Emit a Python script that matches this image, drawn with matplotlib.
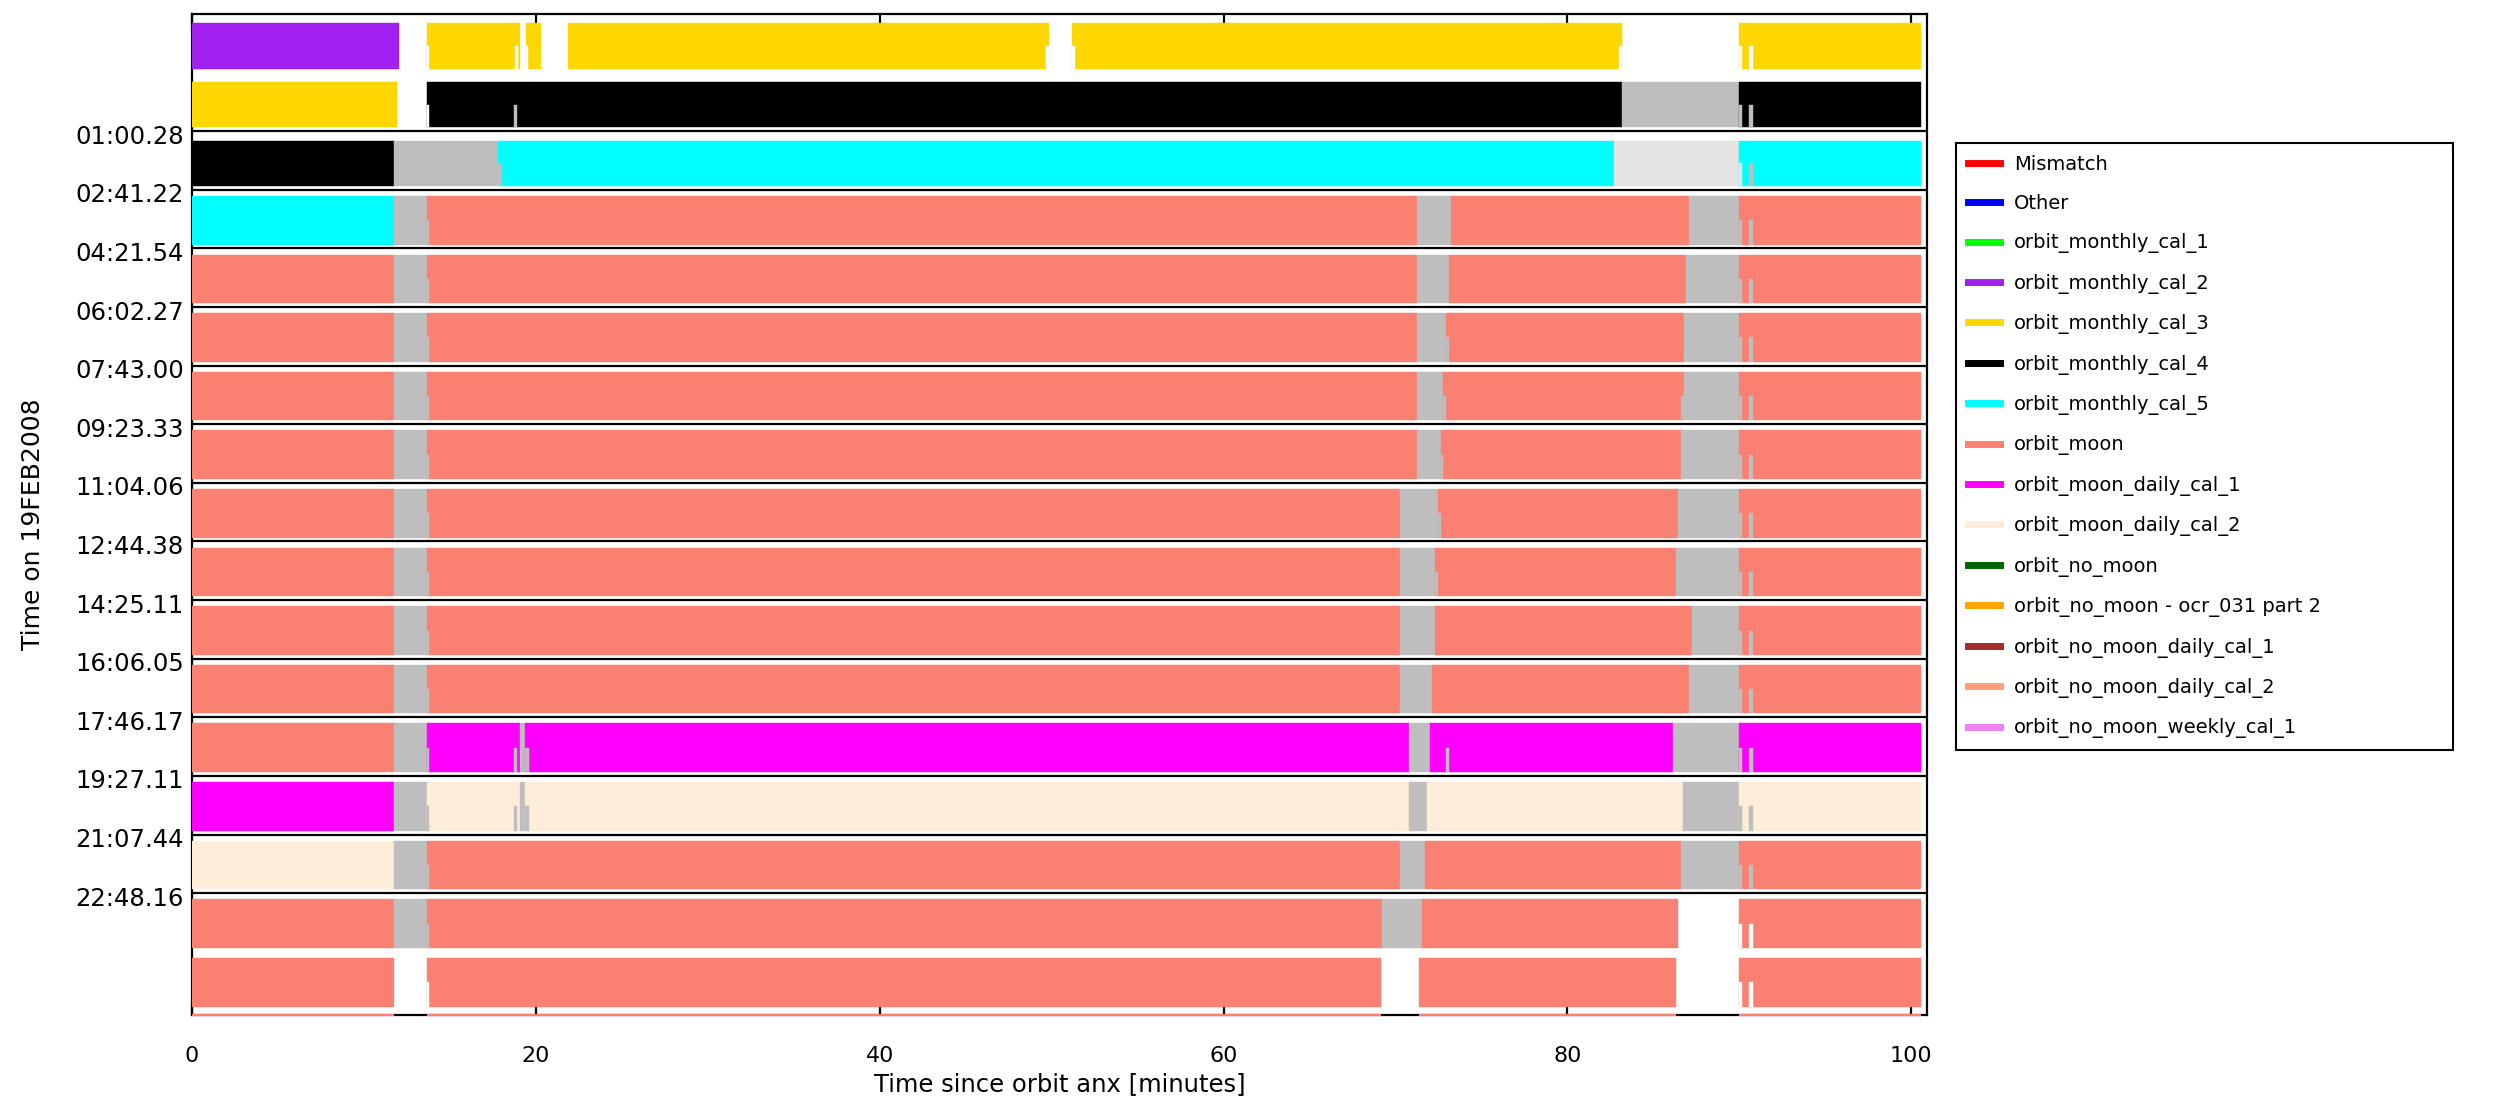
import matplotlib
matplotlib.use('Agg')
import matplotlib.pyplot as plt
import matplotlib.transforms as mtransforms
from matplotlib.lines import Line2D

# legend categories and colours
legend_labels = ['Mismatch', 'Other', 'orbit_monthly_cal_1', 'orbit_monthly_cal_2',
                 'orbit_monthly_cal_3', 'orbit_monthly_cal_4', 'orbit_monthly_cal_5',
                 'orbit_moon', 'orbit_moon_daily_cal_1', 'orbit_moon_daily_cal_2',
                 'orbit_no_moon', 'orbit_no_moon - ocr_031 part 2',
                 'orbit_no_moon_daily_cal_1', 'orbit_no_moon_daily_cal_2',
                 'orbit_no_moon_weekly_cal_1']
legend_colors = ['#ff0000', '#0000ff', '#00ff00', '#a020f0', '#ffd700', '#000000',
                 '#00ffff', '#fa8072', '#ff00ff', '#fdedd8', '#006400', '#ffa500',
                 '#a52a2a', '#ffa07a', '#ee82ee']

# short keys used in the orbit segments below
key_colors = {'m2': '#a020f0', 'm3': '#ffd700', 'm4': '#000000', 'm5': '#00ffff',
              'moon': '#fa8072', 'd1': '#ff00ff', 'd2': '#fdedd8',
              'gap': '#bebebe', 'gap2': '#e3e3e3', 'none': 'white'}

# y tick labels: start time of each orbit (row boundary)
tick_rows = [2, 3, 4, 5, 6, 7, 8, 9, 10, 11, 12, 13, 14, 15]
tick_labels = ['01:00.28', '02:41.22', '04:21.54', '06:02.27', '07:43.00', '09:23.33',
               '11:04.06', '12:44.38', '14:25.11', '16:06.05', '17:46.17', '19:27.11',
               '21:07.44', '22:48.16']

# segments per orbit: (start min, end min, key)
orbit_00 = [(0, 12.06, 'm2'), (13.65, 19.08, 'm3'), (19.40, 20.30, 'm3'),
            (21.87, 49.82, 'm3'), (51.21, 83.17, 'm3'), (90.01, 100.56, 'm3')]
orbit_01 = [(0, 11.93, 'm3'), (13.65, 83.17, 'm4'), (83.17, 90.01, 'gap'),
            (90.01, 100.56, 'm4')]
orbit_02 = [(0, 11.77, 'm4'), (11.77, 17.82, 'gap'), (17.82, 82.72, 'm5'),
            (82.72, 90.01, 'gap2'), (90.01, 100.56, 'm5')]
orbit_03 = [(0, 11.77, 'm5'), (11.77, 13.65, 'gap'), (13.65, 71.24, 'moon'),
            (71.24, 73.24, 'gap'), (73.24, 87.07, 'moon'), (87.07, 90.01, 'gap'),
            (90.01, 100.56, 'moon')]
orbit_04 = [(0, 11.77, 'moon'), (11.77, 13.65, 'gap'), (13.65, 71.24, 'moon'),
            (71.24, 73.09, 'gap'), (73.09, 86.92, 'moon'), (86.92, 90.01, 'gap'),
            (90.01, 100.56, 'moon')]
orbit_05 = [(0, 11.77, 'moon'), (11.77, 13.65, 'gap'), (13.65, 71.24, 'moon'),
            (71.24, 72.93, 'gap'), (72.93, 86.78, 'moon'), (86.78, 90.01, 'gap'),
            (90.01, 100.56, 'moon')]
orbit_06 = [(0, 11.77, 'moon'), (11.77, 13.65, 'gap'), (13.65, 71.24, 'moon'),
            (71.24, 72.78, 'gap'), (72.78, 86.78, 'moon'), (86.78, 90.01, 'gap'),
            (90.01, 100.56, 'moon')]
orbit_07 = [(0, 11.77, 'moon'), (11.77, 13.65, 'gap'), (13.65, 71.24, 'moon'),
            (71.24, 72.62, 'gap'), (72.62, 86.60, 'moon'), (86.60, 90.01, 'gap'),
            (90.01, 100.56, 'moon')]
orbit_08 = [(0, 11.77, 'moon'), (11.77, 13.65, 'gap'), (13.65, 70.29, 'moon'),
            (70.29, 72.46, 'gap'), (72.46, 86.44, 'moon'), (86.44, 90.01, 'gap'),
            (90.01, 100.56, 'moon')]
orbit_09 = [(0, 11.77, 'moon'), (11.77, 13.65, 'gap'), (13.65, 70.29, 'moon'),
            (70.29, 72.31, 'gap'), (72.31, 86.29, 'moon'), (86.29, 90.01, 'gap'),
            (90.01, 100.56, 'moon')]
orbit_10 = [(0, 11.77, 'moon'), (11.77, 13.65, 'gap'), (13.65, 70.29, 'moon'),
            (70.29, 72.31, 'gap'), (72.31, 87.22, 'moon'), (87.22, 90.01, 'gap'),
            (90.01, 100.56, 'moon')]
orbit_11 = [(0, 11.77, 'moon'), (11.77, 13.65, 'gap'), (13.65, 70.29, 'moon'),
            (70.29, 72.15, 'gap'), (72.15, 87.07, 'moon'), (87.07, 90.01, 'gap'),
            (90.01, 100.56, 'moon')]
orbit_12 = [(0, 11.77, 'moon'), (11.77, 13.65, 'gap'), (13.65, 19.08, 'd1'),
            (19.08, 19.37, 'gap'), (19.37, 70.76, 'd1'), (70.76, 72.00, 'gap'),
            (72.00, 86.15, 'd1'), (86.15, 90.01, 'gap'), (90.01, 100.56, 'd1')]
orbit_13 = [(0, 11.77, 'd1'), (11.77, 13.65, 'gap'), (13.65, 19.08, 'd2'),
            (19.08, 19.37, 'gap'), (19.37, 70.76, 'd2'), (70.76, 71.84, 'gap'),
            (71.84, 86.75, 'd2'), (86.75, 90.01, 'gap'), (90.01, 100.56, 'd2')]
orbit_14 = [(0, 11.77, 'd2'), (11.77, 13.65, 'gap'), (13.65, 70.29, 'moon'),
            (70.29, 71.69, 'gap'), (71.69, 86.60, 'moon'), (86.60, 90.01, 'gap'),
            (90.01, 100.56, 'moon')]
orbit_15 = [(0, 11.77, 'moon'), (11.77, 13.65, 'gap'), (13.65, 69.21, 'moon'),
            (69.21, 71.53, 'gap'), (71.53, 86.44, 'moon'), (90.01, 100.56, 'moon')]
orbit_16 = [(0, 11.75, 'moon'), (13.65, 69.17, 'moon'), (71.38, 86.29, 'moon'),
            (90.01, 100.56, 'moon')]
orbit_17 = [(0, 11.75, 'moon'), (13.65, 69.17, 'moon'), (71.38, 86.29, 'moon'),
            (90.01, 100.56, 'moon')]

# lower half of a bar where it differs from the upper half: (row, start, end, key)
lower_half = [
    (0, 13.65, 13.80, 'none'), (0, 18.79, 18.95, 'none'), (0, 19.40, 19.55, 'none'),
    (0, 49.66, 49.82, 'none'), (0, 51.21, 51.37, 'none'), (0, 83.03, 83.17, 'none'),
    (0, 90.01, 90.15, 'none'), (0, 90.59, 90.79, 'none'),
    (1, 13.65, 13.80, 'none'), (1, 18.75, 18.92, 'gap'), (1, 90.01, 90.15, 'gap'),
    (1, 90.59, 90.79, 'gap'),
    (2, 17.82, 18.00, 'gap'), (2, 90.01, 90.15, 'gap2'), (2, 90.59, 90.79, 'gap'),
    (3, 13.65, 13.80, 'gap'), (3, 90.01, 90.15, 'gap'), (3, 90.59, 90.79, 'gap'),
    (4, 13.65, 13.80, 'gap'), (4, 90.01, 90.15, 'gap'), (4, 90.59, 90.79, 'gap'),
    (5, 13.65, 13.80, 'gap'), (5, 72.93, 73.09, 'gap'), (5, 90.01, 90.15, 'gap'),
    (5, 90.59, 90.79, 'gap'),
    (6, 13.65, 13.80, 'gap'), (6, 72.78, 72.93, 'gap'), (6, 86.60, 86.78, 'gap'),
    (6, 90.01, 90.15, 'gap'), (6, 90.59, 90.79, 'gap'),
    (7, 13.65, 13.80, 'gap'), (7, 72.62, 72.78, 'gap'), (7, 90.01, 90.15, 'gap'),
    (7, 90.59, 90.79, 'gap'),
    (8, 13.65, 13.80, 'gap'), (8, 72.46, 72.62, 'gap'), (8, 90.01, 90.15, 'gap'),
    (8, 90.59, 90.79, 'gap'),
    (9, 13.65, 13.80, 'gap'), (9, 72.31, 72.46, 'gap'), (9, 90.01, 90.15, 'gap'),
    (9, 90.59, 90.79, 'gap'),
    (10, 13.65, 13.80, 'gap'), (10, 90.01, 90.15, 'gap'), (10, 90.59, 90.79, 'gap'),
    (11, 13.65, 13.80, 'gap'), (11, 90.01, 90.15, 'gap'), (11, 90.59, 90.79, 'gap'),
    (12, 13.65, 13.80, 'gap'), (12, 18.75, 18.92, 'gap'), (12, 19.37, 19.57, 'gap'),
    (12, 72.93, 73.09, 'gap'), (12, 90.01, 90.15, 'gap'), (12, 90.59, 90.79, 'gap'),
    (13, 13.65, 13.80, 'gap'), (13, 18.75, 18.92, 'gap'), (13, 19.37, 19.57, 'gap'),
    (13, 90.01, 90.15, 'gap'), (13, 90.59, 90.79, 'gap'),
    (14, 13.65, 13.80, 'gap'), (14, 90.01, 90.15, 'gap'), (14, 90.59, 90.79, 'gap'),
    (15, 13.65, 13.80, 'gap'), (15, 90.01, 90.15, 'none'), (15, 90.59, 90.79, 'none'),
    (16, 13.65, 13.80, 'none'), (16, 90.01, 90.15, 'none'), (16, 90.59, 90.79, 'none'),
]

orbits = [orbit_00, orbit_01, orbit_02, orbit_03, orbit_04, orbit_05, orbit_06,
          orbit_07, orbit_08, orbit_09, orbit_10, orbit_11, orbit_12, orbit_13,
          orbit_14, orbit_15, orbit_16]

fig = plt.figure(figsize=(24.98, 10.99), dpi=100)
ax = fig.add_axes([0.0769, 0.0764, 0.6946, 0.9109])
ax.set_xlim(0, 100.93)
ax.set_ylim(17.08, 0)

BAR_BOTTOM = 0.935


def bar_top(row):
    return 0.16 if row < 3 else 0.105


for row, segs in enumerate(orbits):
    top = bar_top(row)
    for start, end, key in segs:
        c = key_colors[key]
        ax.barh(row + (top + BAR_BOTTOM) / 2, end - start, left=start,
                height=BAR_BOTTOM - top, color=c, edgecolor=c, linewidth=0.3, zorder=3)

for row, start, end, key in lower_half:
    top = bar_top(row)
    mid = (top + BAR_BOTTOM) / 2
    c = key_colors[key]
    ax.barh(row + (mid + BAR_BOTTOM) / 2, end - start, left=start,
            height=BAR_BOTTOM - mid, color=c, edgecolor=c, linewidth=0.3, zorder=3.5)

# the next orbit just peeks over the bottom axis
for start, end, key in orbit_17:
    ax.hlines(17.08, start, end, color=key_colors[key], lw=1.6, clip_on=False, zorder=4)

# orbit boundaries drawn as full-width tick lines
ax.hlines(tick_rows, 0, 100.93, color='black', lw=1.6, zorder=2)

ax.set_yticks(tick_rows)
ax.set_yticklabels(tick_labels)
ax.tick_params(axis='y', length=0, pad=6, labelsize=17.5)
# labels sit a little below their line in the original
shift = mtransforms.ScaledTranslation(0, -3 / 100, fig.dpi_scale_trans)
for lab in ax.get_yticklabels():
    lab.set_transform(lab.get_transform() + shift)
ax.set_xticks([0, 20, 40, 60, 80, 100])
ax.tick_params(axis='x', direction='in', top=True, length=8, width=1.6, pad=22, labelsize=16)
for sp in ax.spines.values():
    sp.set_linewidth(1.6)

ax.set_xlabel('Time since orbit anx [minutes]', fontsize=17.5)
ax.xaxis.set_label_coords(0.5, -0.057)
ax.xaxis.label.set_va('top')
ax.set_ylabel('Time on 19FEB2008', fontsize=18)
ax.yaxis.set_label_coords(-0.085, 0.49)

handles = [Line2D([], [], color=c, lw=5) for c in legend_colors]
leg = fig.legend(handles, legend_labels, loc='upper left',
                 bbox_to_anchor=(0.783, 0.318, 0.199, 0.552), mode='expand',
                 fontsize=14, handlelength=1.65, handletextpad=0.72, labelspacing=1.05,
                 borderpad=0.6, borderaxespad=0, fancybox=False, edgecolor='black',
                 framealpha=1)
leg.get_frame().set_linewidth(1.5)

fig.savefig('out.png', dpi=100)
